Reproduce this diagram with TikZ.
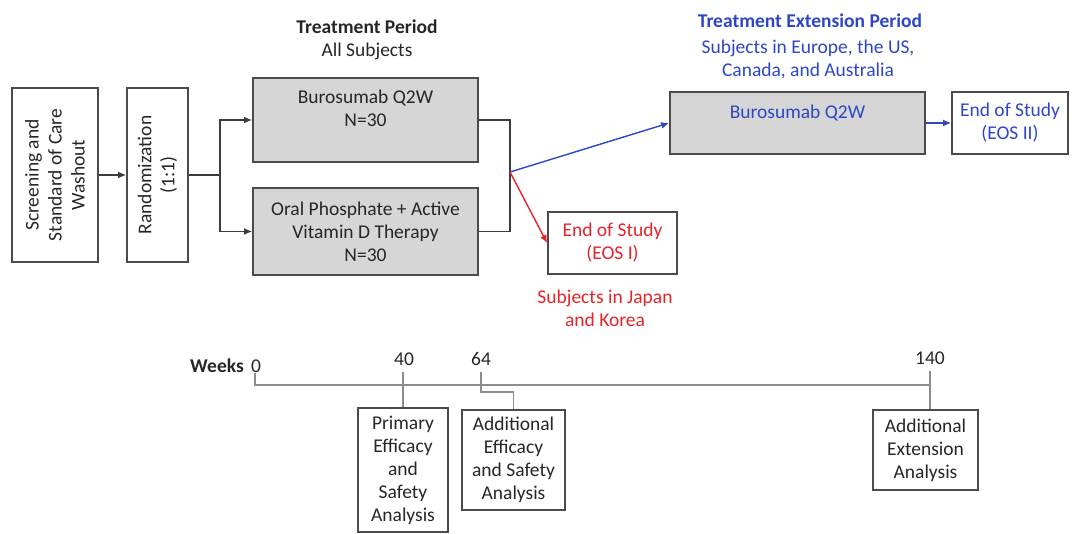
\documentclass[tikz,border=0pt]{standalone}
\usepackage{fontspec}
\setmainfont{Carlito}
\usetikzlibrary{arrows.meta}
\definecolor{bxfill}{RGB}{214,214,214}
\definecolor{bxline}{RGB}{75,75,75}
\definecolor{conn}{RGB}{60,60,60}
\definecolor{tline}{RGB}{140,140,140}
\definecolor{myblue}{RGB}{45,70,200}
\definecolor{myred}{RGB}{230,35,40}
\tikzset{
  txt/.style={font=\fontsize{19.5}{23}\selectfont, align=center, inner sep=0pt, text=black!85},
  box/.style={txt, draw=bxline, line width=1.8pt, inner sep=0pt},
  gbox/.style={box, fill=bxfill},
  conline/.style={draw=conn, line width=1.4pt},
  arr/.style={conline, -{Latex[length=8pt,width=7pt]}},
  tl/.style={draw=tline, line width=1.3pt},
}
\begin{document}
\begin{tikzpicture}[x=1pt,y=-1pt]
\useasboundingbox (0,0) rectangle (1075,534);
% left boxes
\node[box, minimum width=174pt, minimum height=86pt, rotate=90] (scr) at (55,175) {Screening and\\Standard of Care\\Washout};
\node[box, minimum width=174pt, minimum height=61pt, rotate=90] (rand) at (157.5,175) {Randomization\\(1:1)};
% treatment boxes
\node[gbox, minimum width=225pt, minimum height=84pt] (bur) at (365.5,120) {Burosumab Q2W\\N=30\\ };
\node[gbox, minimum width=225pt, minimum height=87pt] (oral) at (365.5,231.5) {Oral Phosphate + Active\\Vitamin D Therapy\\N=30};
% extension
\node[gbox, minimum width=255pt, minimum height=62pt, text=myblue] (ext) at (797.5,123) {Burosumab Q2W\\ };
\node[box, minimum width=116pt, minimum height=62pt, text=myblue] (eos2) at (1010,123) {End of Study\\(EOS II)};
\node[box, minimum width=129pt, minimum height=62pt, text=myred] (eos1) at (612.5,243) {End of Study\\(EOS I)};
% titles
\node[txt] (tp) at (367,27) {\bfseries Treatment Period};
\node[txt] (tpa) at (367,51) {All Subjects};
\node[txt, text=myblue] (te) at (810,21) {\bfseries Treatment Extension Period};
\node[txt, text=myblue] (tes) at (808,59) {Subjects in Europe, the US,\\Canada, and Australia};
\node[txt, text=myred] (jk) at (605,308) {Subjects in Japan\\and Korea};
% connectors
\coordinate (sp) at (220,175);
\coordinate (mg) at (510,172);
\draw[arr] (scr) -- (rand);
\draw[conline] (rand) -- (sp);
\draw[arr] (sp) |- (bur.west);
\draw[arr] (sp) |- (oral.west);
\draw[conline] (bur.east) -| (mg);
\draw[conline] (oral.east) -| (mg);
\draw[arr, draw=myblue] (mg) -- (ext.west);
\draw[arr, draw=myred] (mg) -- (eos1.west);
\draw[arr, draw=myblue] (ext) -- (eos2);
% timeline
\node[txt] (wk) at (217,366) {\bfseries Weeks};
\node[txt] (w0) at (256,366) {0};
\node[txt] (w40) at (404,359) {40};
\node[txt] (w64) at (481,359) {64};
\node[txt] (w140) at (930,358) {140};
\node[box, minimum width=90pt, minimum height=124pt] (prim) at (403,470) {Primary\\Efficacy\\and\\Safety\\Analysis};
\node[box, minimum width=103pt, minimum height=100pt] (addeff) at (513.5,460) {Additional\\Efficacy\\and Safety\\Analysis};
\node[box, minimum width=105pt, minimum height=80pt] (addext) at (925.5,450) {Additional\\Extension\\Analysis};
\coordinate (t0) at (255,373);
\coordinate (tb) at (255,385);
\coordinate (te0) at (930,385);
\coordinate (k40) at (403,372);
\coordinate (k64) at (481,372);
\coordinate (k64b) at (481,392);
\coordinate (k140) at (930,371);
\draw[tl] (t0) -- (tb) -- (te0);
\draw[tl] (k40) -- (prim.north);
\draw[tl] (k64) -- (k64b) -| (addeff.north);
\draw[tl] (k140) -- (addext.north -| k140);
\end{tikzpicture}
\end{document}
